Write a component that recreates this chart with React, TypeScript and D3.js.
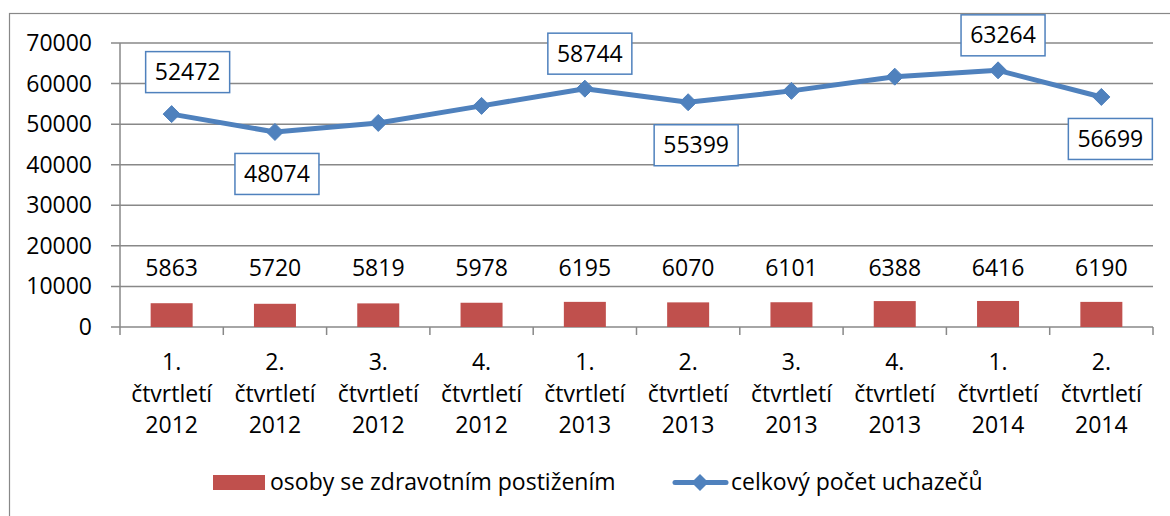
import React from "react";
import * as d3 from "d3";

const quarters = ["1.", "2.", "3.", "4.", "1.", "2.", "3.", "4.", "1.", "2."];
const years = ["2012", "2012", "2012", "2012", "2013", "2013", "2013", "2013", "2014", "2014"];
const disabledPersons = [5863, 5720, 5819, 5978, 6195, 6070, 6101, 6388, 6416, 6190];
const totalApplicants = [52472, 48074, 50300, 54500, 58744, 55399, 58200, 61700, 63264, 56699];
const labeledTotals = [true, true, false, false, true, true, false, false, true, true];
const yTicks = [0, 10000, 20000, 30000, 40000, 50000, 60000, 70000];
const seriesNames = ["osoby se zdravotním postižením", "celkový počet uchazečů"];

// layout offsets of the boxed line labels (dx, dy from the point)
const labelOffsets: [number, number][] = [
  [16, -42], [2, 42], [0, 0], [0, 0], [5, -35], [8, 43], [0, 0], [0, 0], [5, -35], [9, 42],
];

const W = 1170;
const H = 516;
const left = 120;
const right = 1153;
const top = 43;
const bottom = 327;
const FONT = "'Open Sans', sans-serif";
const BAR = "#C0504D";
const LINE = "#4F81BD";
const GRID = "#888888";

export default function App() {
  const idx = d3.range(quarters.length).map(String);
  const x = d3.scaleBand<string>().domain(idx).range([left, right]).paddingInner(0).paddingOuter(0);
  const y = d3.scaleLinear().domain([0, 70000]).range([bottom, top]);
  const bw = x.bandwidth();
  const barW = 42;
  const cx = (i: number) => (x(String(i)) as number) + bw / 2;
  const line = d3
    .line<number>()
    .x((_, i) => cx(i))
    .y((d) => y(d));
  const diamond = (px: number, py: number, r: number) =>
    `M${px},${py - r}L${px + r},${py}L${px},${py + r}L${px - r},${py}Z`;

  return (
    <svg
      width={W}
      height={H}
      style={{ position: "absolute", left: 0, top: 0, background: "#fff" }}
      fontFamily={FONT}
    >
      <rect x={0} y={0} width={W} height={H} fill="#fff" />
      <rect x={9.5} y={13.5} width={W + 20} height={H + 20} fill="none" stroke={GRID} strokeWidth={1.2} />

      {/* gridlines + y ticks */}
      {yTicks.map((t) => (
        <g key={t}>
          <line x1={111} x2={right} y1={y(t)} y2={y(t)} stroke={GRID} strokeWidth={1.5} />
          <text x={92} y={y(t)} dy="0.35em" textAnchor="end" fontSize={23} fill="#000">
            {t}
          </text>
        </g>
      ))}
      <line x1={left} x2={left} y1={top} y2={bottom} stroke={GRID} strokeWidth={1.5} />
      {/* x ticks */}
      {d3.range(quarters.length + 1).map((i) => {
        const xx = left + i * bw;
        return <line key={i} x1={xx} x2={xx} y1={bottom} y2={bottom + 8} stroke={GRID} strokeWidth={1.5} />;
      })}

      {/* bars */}
      {disabledPersons.map((v, i) => (
        <g key={i}>
          <rect x={cx(i) - barW / 2} y={y(v)} width={barW} height={bottom - y(v)} fill={BAR} />
          <text x={cx(i)} y={276} textAnchor="middle" fontSize={23} fill="#000">
            {v}
          </text>
        </g>
      ))}

      {/* line */}
      <path d={line(totalApplicants) as string} fill="none" stroke={LINE} strokeWidth={5} strokeLinejoin="round" />
      {totalApplicants.map((v, i) => (
        <path key={i} d={diamond(cx(i), y(v), 8.5)} fill={LINE} stroke={LINE} strokeWidth={1} />
      ))}

      {/* boxed labels */}
      {totalApplicants.map((v, i) => {
        if (!labeledTotals[i]) return null;
        const [dx, dy] = labelOffsets[i];
        const bx = cx(i) + dx;
        const by = y(v) + dy;
        return (
          <g key={i}>
            <rect x={bx - 42} y={by - 20.5} width={84} height={41} fill="#fff" stroke={LINE} strokeWidth={1.5} />
            <text x={bx} y={by} dy="0.35em" textAnchor="middle" fontSize={23} fill="#000">
              {v}
            </text>
          </g>
        );
      })}

      {/* category labels */}
      {quarters.map((q, i) => (
        <text key={i} x={cx(i)} textAnchor="middle" fontSize={23} fill="#000">
          <tspan x={cx(i)} y={370}>{q}</tspan>
          <tspan x={cx(i)} y={401.5}>čtvrtletí</tspan>
          <tspan x={cx(i)} y={433}>{years[i]}</tspan>
        </text>
      ))}

      {/* legend */}
      <rect x={213} y={475} width={52} height={15} fill={BAR} />
      <text x={270} y={490} fontSize={23} fill="#000">
        {seriesNames[0]}
      </text>
      <line x1={675} x2={726} y1={482.5} y2={482.5} stroke={LINE} strokeWidth={5} strokeLinecap="round" />
      <path d={diamond(700, 482.5, 8.5)} fill={LINE} />
      <text x={731} y={490} fontSize={23} fill="#000">
        {seriesNames[1]}
      </text>
    </svg>
  );
}
